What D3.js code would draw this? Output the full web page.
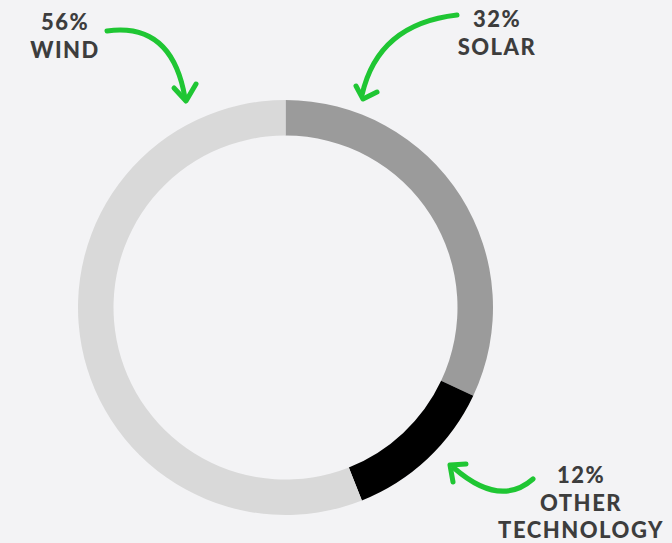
<!DOCTYPE html>
<html>
<head>
<meta charset="utf-8">
<script src="https://cdn.jsdelivr.net/npm/d3@7"></script>
<style>
	body { margin: 0; background: #f3f3f5; }
	svg { display: block; }
	.label { font-family: "Lato", "DejaVu Sans", sans-serif; font-weight: 900; font-size: 22px; fill: #3d3d3d; letter-spacing: 1.5px; }
	.arrow { fill: none; stroke: #1fc633; stroke-width: 5; stroke-linecap: round; stroke-linejoin: round; }
</style>
</head>
<body>
<svg></svg>
<script>
// data
const categories = ['Solar', 'Other Technology', 'Wind']
const shares = [32, 12, 56]
const labelLines = [['32%', 'SOLAR'], ['12%', 'OTHER', 'TECHNOLOGY'], ['56%', 'WIND']]
const colors = ['#9b9b9b', '#000000', '#d9d9d9']

const width = 672, height = 543
const cx = 285.5, cy = 307.5
const outerR = 207.5, innerR = 172

const svg = d3.select('svg')
	.attr('width', width)
	.attr('height', height)

svg.append('rect')
	.attr('width', width)
	.attr('height', height)
	.attr('fill', '#f3f3f5')

const data = categories.map((c, i) => ({name: c, value: shares[i], color: colors[i], lines: labelLines[i]}))

const pie = d3.pie()
	.sort(null)
	.value(d => d.value)

const arc = d3.arc()
	.innerRadius(innerR)
	.outerRadius(outerR)

const g = svg.append('g')
	.attr('transform', `translate(${cx},${cy})`)

g.selectAll('path')
	.data(pie(data)).enter()
	.append('path')
	.attr('d', arc)
	.attr('fill', d => d.data.color)

// annotation spots: text centre and first baseline
const labelPos = {
	'Solar': {x: 497, y: 27},
	'Other Technology': {x: 581, y: 483},
	'Wind': {x: 65, y: 30},
}
const lineGap = 27.5

data.forEach(d => {
	const p = labelPos[d.name]
	const t = svg.append('text')
		.attr('class', 'label')
		.attr('text-anchor', 'middle')
	d.lines.forEach((l, i) => {
		t.append('tspan')
			.attr('x', p.x)
			.attr('y', p.y + i * lineGap)
			.text(l)
	})
})

// hand drawn arrows
const arrows = [
	{line: 'M107,31 Q172,22 185,98', head: 'M174,88 L186,101 L196,84'},
	{line: 'M457,15 Q378,24 362,95', head: 'M356,86 L363,99 L377,92'},
	{line: 'M533,479 Q500,508 454,468', head: 'M453,482 L450,465 L466,464'},
]
arrows.forEach(a => {
	svg.append('path').attr('class', 'arrow').attr('d', a.line)
	svg.append('path').attr('class', 'arrow').attr('d', a.head)
})
</script>
</body>
</html>
